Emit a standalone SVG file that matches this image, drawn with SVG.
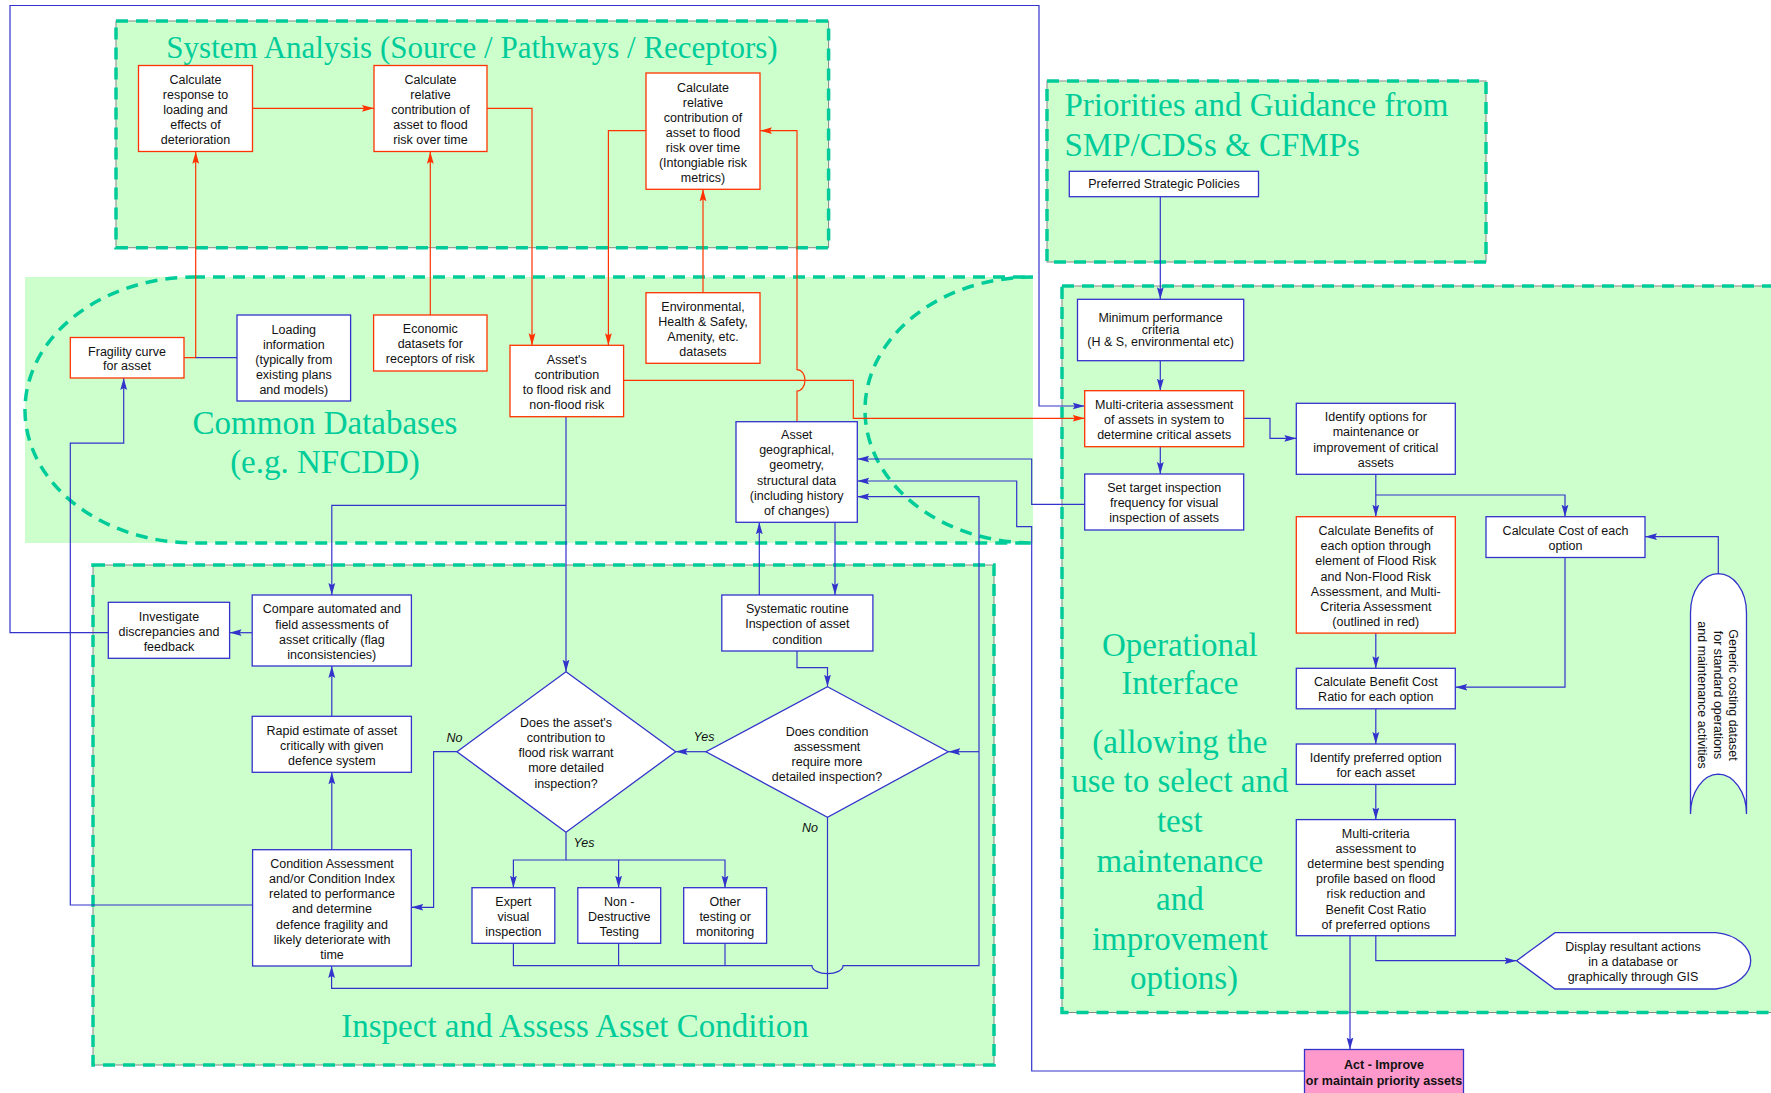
<svg xmlns="http://www.w3.org/2000/svg" width="1771" height="1093" viewBox="0 0 1771 1093">
<defs>
  <marker id="ah-b" viewBox="0 0 12 8" refX="12" refY="4" markerWidth="12" markerHeight="8" markerUnits="userSpaceOnUse" orient="auto">
    <path d="M0,0.6 L12,4 L0,7.4 L2,4 Z" fill="#3333CC"/>
  </marker>
  <marker id="ah-r" viewBox="0 0 12 8" refX="12" refY="4" markerWidth="12" markerHeight="8" markerUnits="userSpaceOnUse" orient="auto">
    <path d="M0,0.6 L12,4 L0,7.4 L2,4 Z" fill="#FF3300"/>
  </marker>
  <style>
    .zone { fill:#CCFFCC; stroke:none; }
    .edge { fill:none; stroke:#888888; stroke-width:1; }
    .dash { fill:none; stroke:#00CC99; stroke-width:3.5; stroke-dasharray:12 8; }
    .title { font-family:"Liberation Serif","Times New Roman",serif; font-size:33px; fill:#00CC99; text-anchor:middle; }
    .box { fill:#FFFFFF; stroke-width:1.3; }
    .b { stroke:#3333CC; }
    .r { stroke:#FF3300; }
    .t { font-family:"Liberation Sans",Arial,sans-serif; font-size:12.5px; fill:#111111; text-anchor:middle; }
    .lbl { font-family:"Liberation Sans",Arial,sans-serif; font-size:12.5px; font-style:italic; fill:#111111; text-anchor:middle; }
    .bold { font-weight:bold; }
    .cb { fill:none; stroke:#3333CC; stroke-width:1.2; }
    .cr { fill:none; stroke:#FF3300; stroke-width:1.2; }
    .ab { marker-end:url(#ah-b); }
    .ar { marker-end:url(#ah-r); }
  </style>
</defs>

<!-- background regions -->
<g id="region-system-analysis">
  <rect class="zone" x="116" y="21" width="712.6" height="226.7"/>
  <rect class="edge" x="116" y="21" width="712.6" height="226.7"/>
  <rect class="dash" x="116" y="21" width="712.6" height="226.7"/>
  <text class="title" x="472" y="57.5" style="font-size:31px">System Analysis (Source / Pathways / Receptors)</text>
</g>
<g id="region-common-databases">
  <rect class="zone" x="25" y="277" width="1008" height="266"/>
  <path class="dash" d="M193,277 L1033,277 A168,133 0 0 0 1033,543 L197,543 A170,133 0 0 1 193,277 Z"/>
  <text class="title" x="325" y="433.5">Common Databases</text>
  <text class="title" x="325" y="473">(e.g. NFCDD)</text>
</g>
<g id="region-inspect">
  <rect class="zone" x="93" y="565" width="901" height="500"/>
  <rect class="edge" x="93" y="565" width="901" height="500"/>
  <rect class="dash" x="93" y="565" width="901" height="500"/>
  <text class="title" x="575" y="1037">Inspect and Assess Asset Condition</text>
</g>
<g id="region-priorities">
  <rect class="zone" x="1047" y="81" width="439" height="181"/>
  <rect class="edge" x="1047" y="81" width="439" height="181"/>
  <rect class="dash" x="1047" y="81" width="439" height="181"/>
  <text class="title" x="1064.5" y="115.5" style="text-anchor:start">Priorities and Guidance from</text>
  <text class="title" x="1064.5" y="155.5" style="text-anchor:start">SMP/CDSs &amp; CFMPs</text>
</g>
<g id="region-operational">
  <rect class="zone" x="1062" y="286" width="730" height="726.5"/>
  <rect class="edge" x="1062" y="286" width="730" height="726.5"/>
  <rect class="dash" x="1062" y="286" width="730" height="726.5"/>
  <text class="title" x="1184">
    <tspan x="1184" y="656">Operational</tspan>
    <tspan x="1184" y="694">Interface</tspan>
    <tspan x="1184" y="753">(allowing the</tspan>
    <tspan x="1184" y="792">use to select and</tspan>
    <tspan x="1184" y="832">test</tspan>
    <tspan x="1184" y="872">maintenance</tspan>
    <tspan x="1184" y="910">and</tspan>
    <tspan x="1184" y="950">improvement</tspan>
    <tspan x="1184" y="989">options)</tspan>
  </text>
</g>

<!-- connectors -->
<g id="connectors">
  <!-- red: system analysis flows -->
  <path class="cr ar" d="M252.5,108.3 H374"/>
  <path class="cr ar" d="M487,108.3 H532 V345.3"/>
  <path class="cr ar" d="M646,130.7 H608.4 V345.3"/>
  <path class="cr ar" d="M797,421.7 V391 A8,10.7 0 0 0 797,369.6 V130.7 H760"/>
  <path class="cr ar" d="M703,292.7 V189.3"/>
  <path class="cr ar" d="M430.3,315 V151.7"/>
  <path class="cr ar" d="M184,357.7 H195.7 V151.7"/>
  <path class="cr ar" d="M623.6,380.3 H853.3 V418.3 H1084.7"/>
  <!-- blue: databases and inspection -->
  <path class="cb" d="M237,357.7 H195.7"/>
  <path class="cb ab" d="M566,416.7 V671.7"/>
  <path class="cb ab" d="M566,505.3 H331.8 V595"/>
  <path class="cb ab" d="M835,522.3 V595"/>
  <path class="cb ab" d="M759.3,595 V522.3"/>
  <path class="cb ab" d="M797,651 V667.7 H827.5 V686.7"/>
  <path class="cb ab" d="M706,751.7 H675.7"/>
  <path class="cb ab" d="M457,751.7 H433.6 V907.3 H411.3"/>
  <path class="cb ab" d="M566,832.3 V860 H513.4 V887.7"/>
  <path class="cb ab" d="M566,860 H618.6 V887.7"/>
  <path class="cb ab" d="M618.6,860 H725 V887.7"/>
  <path class="cb ab" d="M513.4,943.3 V965.7 H812 A15.5,8 0 0 0 843,965.7 H979 V496.7 H857.3"/>
  <path class="cb" d="M618.6,943.3 V965.7"/>
  <path class="cb" d="M725,943.3 V965.7"/>
  <path class="cb ab" d="M979,751.7 H948.2"/>
  <path class="cb ab" d="M827.5,817.3 V988.3 H331.6 V966"/>
  <path class="cb ab" d="M331.8,849.7 V772.3"/>
  <path class="cb ab" d="M331.8,716.3 V666"/>
  <path class="cb ab" d="M252.2,632.7 H229.6"/>
  <path class="cb ab" d="M108.3,632.7 H10 V5.5 H1039 V406 H1084.7"/>
  <path class="cb ab" d="M252.6,905 H70.3 V443.2 H123.7 V378"/>
  <!-- blue: operational interface -->
  <path class="cb ab" d="M1160.3,196.7 V299.3"/>
  <path class="cb ab" d="M1160.3,360.7 V390.7"/>
  <path class="cb ab" d="M1160.3,446.7 V474"/>
  <path class="cb ab" d="M1243.7,418.3 H1270 V438.3 H1296.3"/>
  <path class="cb ab" d="M1375.8,474.3 V516.7"/>
  <path class="cb ab" d="M1375.8,495 H1565 V516.7"/>
  <path class="cb ab" d="M1565,557.5 V687.2 H1455.3"/>
  <path class="cb ab" d="M1375.8,633.1 V668.3"/>
  <path class="cb ab" d="M1375.8,708.8 V744"/>
  <path class="cb ab" d="M1375.8,784.4 V819.6"/>
  <path class="cb ab" d="M1350,935.7 V1049.5"/>
  <path class="cb ab" d="M1375.8,935.7 V960.7 H1516.6"/>
  <path class="cb ab" d="M1718.3,573.7 V536.7 H1645"/>
  <path class="cb ab" d="M1084.7,504.3 H1031.7 V459 H857.3"/>
  <path class="cb ab" d="M1304.5,1071 H1031.7 V526.7 H1016.7 V481 H857.3"/>
  <!-- branch labels -->
  <text class="lbl" x="454.5" y="741.7">No</text>
  <text class="lbl" x="704" y="741">Yes</text>
  <text class="lbl" x="584" y="847">Yes</text>
  <text class="lbl" x="810" y="832">No</text>
</g>

<!-- system analysis nodes -->
<g id="calc-response">
  <rect class="box r" x="138.5" y="65.5" width="114" height="86"/>
  <text class="t"><tspan x="195.5" y="84">Calculate</tspan><tspan x="195.5" y="99">response to</tspan><tspan x="195.5" y="114">loading and</tspan><tspan x="195.5" y="129">effects of</tspan><tspan x="195.5" y="144">deterioration</tspan></text>
</g>
<g id="calc-contribution">
  <rect class="box r" x="374" y="65.5" width="113" height="86"/>
  <text class="t"><tspan x="430.5" y="84">Calculate</tspan><tspan x="430.5" y="99">relative</tspan><tspan x="430.5" y="114">contribution of</tspan><tspan x="430.5" y="129">asset to flood</tspan><tspan x="430.5" y="144">risk over time</tspan></text>
</g>
<g id="calc-intangible">
  <rect class="box r" x="646" y="73" width="114" height="116.3"/>
  <text class="t"><tspan x="703" y="91.7">Calculate</tspan><tspan x="703" y="106.7">relative</tspan><tspan x="703" y="121.7">contribution of</tspan><tspan x="703" y="136.7">asset to flood</tspan><tspan x="703" y="151.7">risk over time</tspan><tspan x="703" y="166.7">(Intongiable risk</tspan><tspan x="703" y="181.7">metrics)</tspan></text>
</g>

<!-- common database nodes -->
<g id="fragility">
  <rect class="box r" x="70.3" y="337.5" width="113.7" height="40.5"/>
  <text class="t"><tspan x="127" y="355.8">Fragility curve</tspan><tspan x="127" y="370.4">for asset</tspan></text>
</g>
<g id="loading-info">
  <rect class="box b" x="237" y="315" width="113.6" height="86"/>
  <text class="t"><tspan x="293.8" y="334">Loading</tspan><tspan x="293.8" y="349">information</tspan><tspan x="293.8" y="364">(typically from</tspan><tspan x="293.8" y="379">existing plans</tspan><tspan x="293.8" y="394">and models)</tspan></text>
</g>
<g id="economic">
  <rect class="box r" x="373.6" y="315" width="113.4" height="56"/>
  <text class="t"><tspan x="430.3" y="333">Economic</tspan><tspan x="430.3" y="348">datasets for</tspan><tspan x="430.3" y="363">receptors of risk</tspan></text>
</g>
<g id="asset-contribution">
  <rect class="box r" x="510" y="345.3" width="113.6" height="71.4"/>
  <text class="t"><tspan x="566.8" y="364.4">Asset's</tspan><tspan x="566.8" y="379.4">contribution</tspan><tspan x="566.8" y="394.4">to flood risk and</tspan><tspan x="566.8" y="409.4">non-flood risk</tspan></text>
</g>
<g id="environmental">
  <rect class="box r" x="646" y="292.7" width="114" height="70.6"/>
  <text class="t"><tspan x="703" y="311">Environmental,</tspan><tspan x="703" y="326">Health &amp; Safety,</tspan><tspan x="703" y="341">Amenity, etc.</tspan><tspan x="703" y="356">datasets</tspan></text>
</g>
<g id="asset-geo">
  <rect class="box b" x="736" y="421.7" width="121.3" height="100.6"/>
  <text class="t"><tspan x="796.7" y="438.7">Asset</tspan><tspan x="796.7" y="454">geographical,</tspan><tspan x="796.7" y="469.3">geometry,</tspan><tspan x="796.7" y="484.6">structural data</tspan><tspan x="796.7" y="499.9">(including history</tspan><tspan x="796.7" y="515.2">of changes)</tspan></text>
</g>

<!-- inspection nodes -->
<g id="investigate">
  <rect class="box b" x="108.3" y="602.3" width="121.3" height="56"/>
  <text class="t"><tspan x="169" y="621">Investigate</tspan><tspan x="169" y="636">discrepancies and</tspan><tspan x="169" y="651">feedback</tspan></text>
</g>
<g id="compare">
  <rect class="box b" x="252.2" y="595" width="159.2" height="71"/>
  <text class="t"><tspan x="331.8" y="613.4">Compare automated and</tspan><tspan x="331.8" y="628.6">field assessments of</tspan><tspan x="331.8" y="643.8">asset critically (flag</tspan><tspan x="331.8" y="659">inconsistencies)</tspan></text>
</g>
<g id="rapid-estimate">
  <rect class="box b" x="252.2" y="716.3" width="159.2" height="56"/>
  <text class="t"><tspan x="331.8" y="735.4">Rapid estimate of asset</tspan><tspan x="331.8" y="750.4">critically with given</tspan><tspan x="331.8" y="765.4">defence system</tspan></text>
</g>
<g id="condition-assessment">
  <rect class="box b" x="252.6" y="849.7" width="158.7" height="116.3"/>
  <text class="t"><tspan x="332" y="867.7">Condition Assessment</tspan><tspan x="332" y="882.9">and/or Condition Index</tspan><tspan x="332" y="898.1">related to performance</tspan><tspan x="332" y="913.3">and determine</tspan><tspan x="332" y="928.5">defence fragility and</tspan><tspan x="332" y="943.7">likely deteriorate with</tspan><tspan x="332" y="958.9">time</tspan></text>
</g>
<g id="systematic-inspection">
  <rect class="box b" x="721.8" y="595" width="151.1" height="56"/>
  <text class="t"><tspan x="797.3" y="613.4">Systematic routine</tspan><tspan x="797.3" y="628.4">Inspection of asset</tspan><tspan x="797.3" y="643.6">condition</tspan></text>
</g>
<g id="decision-contribution">
  <polygon class="box b" points="566,671.7 675.7,751.7 566,832.3 457,751.7"/>
  <text class="t"><tspan x="566" y="727.1">Does the asset's</tspan><tspan x="566" y="742.2">contribution to</tspan><tspan x="566" y="757.3">flood risk warrant</tspan><tspan x="566" y="772.4">more detailed</tspan><tspan x="566" y="787.5">inspection?</tspan></text>
</g>
<g id="decision-condition">
  <polygon class="box b" points="827.5,686.7 948.2,751.7 827.5,817.3 706,751.7"/>
  <text class="t"><tspan x="827" y="735.5">Does condition</tspan><tspan x="827" y="750.5">assessment</tspan><tspan x="827" y="765.5">require more</tspan><tspan x="827" y="780.5">detailed inspection?</tspan></text>
</g>
<g id="expert-visual">
  <rect class="box b" x="472" y="887.7" width="82.8" height="55.6"/>
  <text class="t"><tspan x="513.4" y="906">Expert</tspan><tspan x="513.4" y="921.2">visual</tspan><tspan x="513.4" y="936.4">inspection</tspan></text>
</g>
<g id="non-destructive">
  <rect class="box b" x="577.8" y="887.7" width="82.9" height="55.6"/>
  <text class="t"><tspan x="619.2" y="906">Non -</tspan><tspan x="619.2" y="921.2">Destructive</tspan><tspan x="619.2" y="936.4">Testing</tspan></text>
</g>
<g id="other-testing">
  <rect class="box b" x="683.7" y="887.7" width="82.9" height="55.6"/>
  <text class="t"><tspan x="725.1" y="906">Other</tspan><tspan x="725.1" y="921.2">testing or</tspan><tspan x="725.1" y="936.4">monitoring</tspan></text>
</g>

<!-- priorities and operational nodes -->
<g id="preferred-policies">
  <rect class="box b" x="1069.3" y="171.3" width="189.2" height="25.4"/>
  <text class="t" x="1164" y="188.4">Preferred Strategic Policies</text>
</g>
<g id="minimum-performance">
  <rect class="box b" x="1077.5" y="299.3" width="166.2" height="61.4"/>
  <text class="t"><tspan x="1160.6" y="322">Minimum performance</tspan><tspan x="1160.6" y="334">criteria</tspan><tspan x="1160.6" y="346">(H &amp; S, environmental etc)</tspan></text>
</g>
<g id="multi-criteria">
  <rect class="box r" x="1084.7" y="390.7" width="159" height="56"/>
  <text class="t"><tspan x="1164.2" y="408.7">Multi-criteria assessment</tspan><tspan x="1164.2" y="424.4">of assets in system to</tspan><tspan x="1164.2" y="439.4">determine critical assets</tspan></text>
</g>
<g id="set-target">
  <rect class="box b" x="1084.7" y="474" width="159" height="56"/>
  <text class="t"><tspan x="1164.2" y="492">Set target inspection</tspan><tspan x="1164.2" y="507">frequency for visual</tspan><tspan x="1164.2" y="522">inspection of assets</tspan></text>
</g>
<g id="identify-options">
  <rect class="box b" x="1296.3" y="403.3" width="159" height="71"/>
  <text class="t"><tspan x="1375.8" y="421">Identify options for</tspan><tspan x="1375.8" y="436">maintenance or</tspan><tspan x="1375.8" y="452">improvement of critical</tspan><tspan x="1375.8" y="467">assets</tspan></text>
</g>
<g id="calc-benefits">
  <rect class="box r" x="1296.3" y="516.7" width="159" height="116.4"/>
  <text class="t"><tspan x="1375.8" y="535">Calculate Benefits of</tspan><tspan x="1375.8" y="550.2">each option through</tspan><tspan x="1375.8" y="565.4">element of Flood Risk</tspan><tspan x="1375.8" y="580.6">and Non-Flood Risk</tspan><tspan x="1375.8" y="595.8">Assessment, and Multi-</tspan><tspan x="1375.8" y="611">Criteria Assessment</tspan><tspan x="1375.8" y="626.2">(outlined in red)</tspan></text>
</g>
<g id="calc-cost">
  <rect class="box b" x="1486" y="516.7" width="159" height="40.8"/>
  <text class="t"><tspan x="1565.5" y="535">Calculate Cost of each</tspan><tspan x="1565.5" y="550.2">option</tspan></text>
</g>
<g id="benefit-cost-ratio">
  <rect class="box b" x="1296.3" y="668.3" width="159" height="40.5"/>
  <text class="t"><tspan x="1375.8" y="686">Calculate Benefit Cost</tspan><tspan x="1375.8" y="701">Ratio for each option</tspan></text>
</g>
<g id="preferred-option">
  <rect class="box b" x="1296.3" y="744" width="159" height="40.4"/>
  <text class="t"><tspan x="1375.8" y="762.4">Identify preferred option</tspan><tspan x="1375.8" y="777">for each asset</tspan></text>
</g>
<g id="spending-profile">
  <rect class="box b" x="1296.3" y="819.6" width="159" height="116.1"/>
  <text class="t"><tspan x="1375.8" y="838">Multi-criteria</tspan><tspan x="1375.8" y="853.1">assessment to</tspan><tspan x="1375.8" y="868.2">determine best spending</tspan><tspan x="1375.8" y="883.3">profile based on flood</tspan><tspan x="1375.8" y="898.4">risk reduction and</tspan><tspan x="1375.8" y="913.5">Benefit Cost Ratio</tspan><tspan x="1375.8" y="928.6">of preferred options</tspan></text>
</g>
<g id="display-actions">
  <path class="box b" d="M1516.6,960.7 L1555,932.7 L1716,932.7 C1738,935 1750.7,948 1750.7,960.7 C1750.7,973 1738,986 1716,989 L1555,989 Z"/>
  <text class="t"><tspan x="1633" y="951.4">Display resultant actions</tspan><tspan x="1633" y="966.4">in a database or</tspan><tspan x="1633" y="981.4">graphically through GIS</tspan></text>
</g>
<g id="generic-costing">
  <path class="box b" d="M1690.5,814 L1690.5,613 C1690.5,590 1703,574 1718.3,573.7 C1733.6,574 1746.5,590 1746.5,613 L1746.5,814 C1746.5,792 1733.6,774.5 1718.3,774.2 C1703,774.5 1690.5,792 1690.5,814 Z"/>
  <text class="t" transform="translate(1718,695) rotate(90)"><tspan x="0" y="-11.2">Generic costing dataset</tspan><tspan x="0" y="4.4">for standard operations</tspan><tspan x="0" y="19.9">and maintenance activities</tspan></text>
</g>
<g id="act">
  <rect class="box b" x="1304.5" y="1049.5" width="159" height="46" style="fill:#FF99CC"/>
  <text class="t bold"><tspan x="1384" y="1069.4">Act - Improve</tspan><tspan x="1384" y="1085">or maintain priority assets</tspan></text>
</g>
</svg>
